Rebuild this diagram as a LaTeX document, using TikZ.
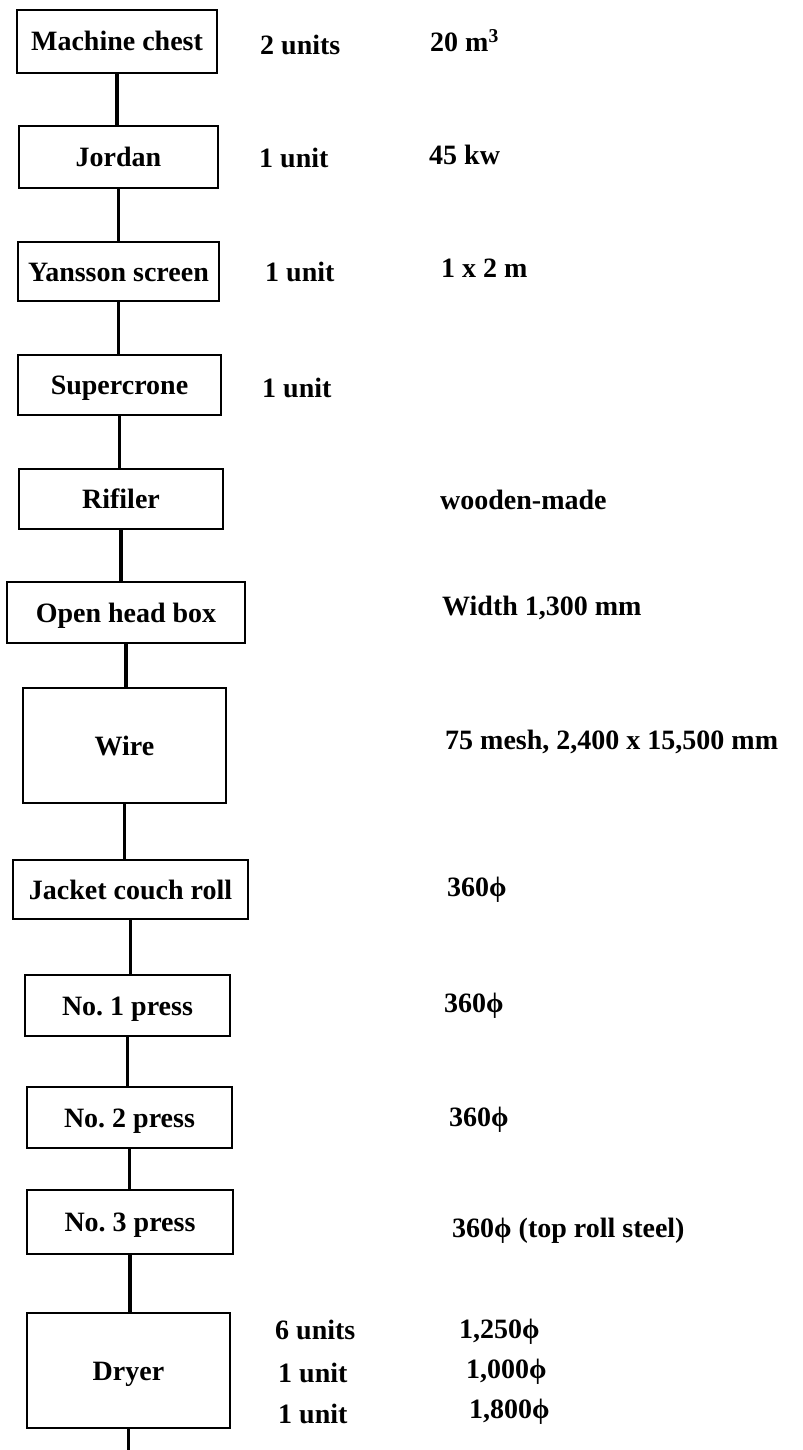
\documentclass[tikz,border=0pt]{standalone}
\usepackage{fontspec}
\setmainfont{Liberation Serif}
\begin{document}
\begin{tikzpicture}[x=1bp,y=-1bp,
  every node/.style={font=\fontsize{28bp}{32bp}\selectfont\bfseries},
  box/.style={draw, line width=2.8bp, inner sep=0pt, text height=19bp, text depth=0pt, align=center},
  lab/.style={anchor=west, inner sep=0pt, text height=19bp, text depth=0pt},
  link/.style={line width=3.6bp}]
\useasboundingbox (0,0) rectangle (802,1450);
% process boxes
\node[box, minimum width=200bp, minimum height=63bp] (mc) at (117,41.5) {Machine chest};
\node[box, minimum width=199bp, minimum height=62bp] (jo) at (118.5,157) {Jordan};
\node[box, minimum width=201bp, minimum height=59bp] (ya) at (118.5,271.5) {Yansson screen};
\node[box, minimum width=203bp, minimum height=60bp] (su) at (119.5,385) {Supercrone};
\node[box, minimum width=204bp, minimum height=60bp] (ri) at (121,499) {Rifiler};
\node[box, minimum width=238bp, minimum height=61bp] (oh) at (126,612.5) {Open head box};
\node[box, minimum width=203bp, minimum height=115bp] (wi) at (124.5,745.5) {Wire};
\node[box, minimum width=235bp, minimum height=59bp] (ja) at (130.5,889.5) {Jacket couch roll};
\node[box, minimum width=205bp, minimum height=61bp] (p1) at (127.5,1005.5) {No.\ 1 press};
\node[box, minimum width=205bp, minimum height=61bp] (p2) at (129.5,1117.5) {No.\ 2 press};
\node[box, minimum width=206bp, minimum height=64bp] (p3) at (130,1222) {No.\ 3 press};
\node[box, minimum width=203bp, minimum height=115bp] (dr) at (128.5,1370.5) {Dryer};
\coordinate (bottom) at (128,1450);
% connectors
\draw[link] (mc.south) -- (mc.south |- jo.north);
\draw[link] (jo.south) -- (jo.south |- ya.north);
\draw[link] (ya.south) -- (ya.south |- su.north);
\draw[link] (su.south) -- (su.south |- ri.north);
\draw[link] (ri.south) -- (ri.south |- oh.north);
\draw[link] (oh.south) -- (oh.south |- wi.north);
\draw[link] (wi.south) -- (wi.south |- ja.north);
\draw[link] (ja.south) -- (ja.south |- p1.north);
\draw[link] (p1.south) -- (p1.south |- p2.north);
\draw[link] (p2.south) -- (p2.south |- p3.north);
\draw[link] (p3.south) -- (p3.south |- dr.north);
\draw[link] (dr.south) -- (dr.south |- bottom);
% unit counts
\node[lab] (u1) at (260,45) {2 units};
\node[lab] (u2) at (259,158) {1 unit};
\node[lab] (u3) at (265,272) {1 unit};
\node[lab] (u4) at (262,388) {1 unit};
\node[lab] (u5) at (275,1330) {6 units};
\node[lab] (u6) at (278,1373) {1 unit};
\node[lab] (u7) at (278,1414) {1 unit};
% specifications
\node[lab] (s1) at (430,42) {20 m\textsuperscript{3}};
\node[lab] (s2) at (429,155) {45 kw};
\node[lab] (s3) at (441,268) {1 x 2 m};
\node[lab] (s4) at (440,500) {wooden-made};
\node[lab] (s5) at (442,606) {Width 1,300 mm};
\node[lab] (s6) at (445,740) {75 mesh, 2,400 x 15,500 mm};
\node[lab] (s7) at (447,887) {360ϕ};
\node[lab] (s8) at (444,1003) {360ϕ};
\node[lab] (s9) at (449,1117) {360ϕ};
\node[lab] (s10) at (452,1228) {360ϕ (top roll steel)};
\node[lab] (s11) at (459,1329) {1,250ϕ};
\node[lab] (s12) at (466,1369) {1,000ϕ};
\node[lab] (s13) at (469,1409) {1,800ϕ};
\end{tikzpicture}
\end{document}
